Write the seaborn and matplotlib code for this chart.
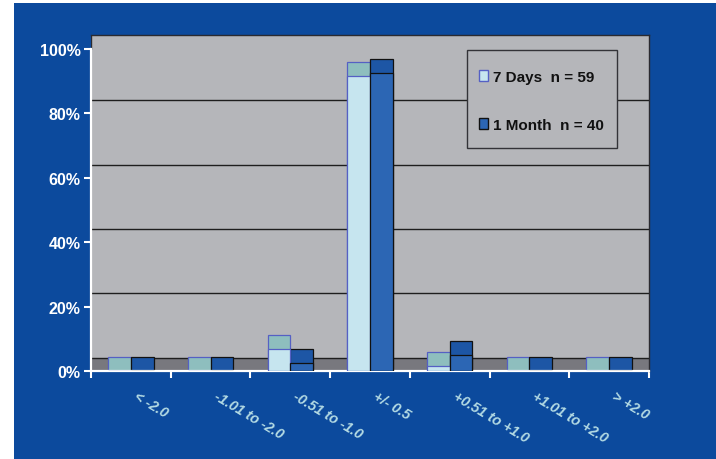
import matplotlib
matplotlib.use("Agg")
import matplotlib.pyplot as plt
import matplotlib.patches as mpatches
from matplotlib.transforms import ScaledTranslation
import numpy as np
import pandas as pd
import seaborn as sns

# Change in value, grouped into ranges
categories = ["< -2.0", "-1.01 to -2.0", "-0.51 to -1.0", "+/- 0.5",
              "+0.51 to +1.0", "+1.01 to +2.0", "> +2.0"]
series_names = ["7 Days  n = 59", "1 Month  n = 40"]
pct_7_days = [0.0, 0.0, 6.8, 91.5, 1.7, 0.0, 0.0]
pct_1_month = [0.0, 0.0, 2.5, 92.5, 5.0, 0.0, 0.0]
y_ticks = [0, 20, 40, 60, 80, 100]
y_tick_labels = ["0%", "20%", "40%", "60%", "80%", "100%"]

# 3D look: depth of the floor and of the bar tops, in percent units
DEPTH = 4.1
CAP = 4.3
Y_TOP = 104.3

front_colors = ["#c6e5ef", "#2c66b4"]
cap_colors = ["#8ebebe", "#1d56a5"]
edge_colors = ["#5560c4", "#111111"]
wall = "#b5b6ba"
floor = "#78787e"
bg_blue = "#0c4a9d"
label_cyan = "#b4dbe4"

df = pd.DataFrame({
    "category": categories * 2,
    "series": [series_names[0]] * len(categories) + [series_names[1]] * len(categories),
    "value": pct_7_days + pct_1_month,
})
df["cap_top"] = df["value"] + CAP

sns.set_theme(style="white")
plt.rcParams["font.family"] = ["Liberation Sans", "DejaVu Sans"]

fig = plt.figure(figsize=(7.16, 4.6), dpi=100, facecolor="white")
fig.add_artist(mpatches.Rectangle((14 / 716, 0), 1 - 14 / 716, 456 / 460,
                                  transform=fig.transFigure, facecolor=bg_blue,
                                  edgecolor="none", zorder=-10))
ax = fig.add_axes([91 / 716, 1 - 372 / 460, (649 - 91) / 716, (372 - 36) / 460])
ax.set_zorder(5)
ax.set_facecolor(wall)

# floor and back-wall gridlines (raised by the floor depth)
ax.axhspan(0, DEPTH, color=floor, zorder=0.5, lw=0)
ax.axhline(DEPTH, color="#1e1e1e", lw=1.0, zorder=0.6)
for t in y_ticks[1:-1]:
    ax.axhline(t + DEPTH, color="#1e1e1e", lw=1.0, zorder=0.6)

# bar tops first, then the front faces over them
sns.barplot(data=df, x="category", y="cap_top", hue="series", order=categories,
            hue_order=series_names, palette=cap_colors, width=0.57, errorbar=None,
            legend=False, saturation=1, ax=ax, zorder=2)
sns.barplot(data=df, x="category", y="value", hue="series", order=categories,
            hue_order=series_names, palette=front_colors, width=0.57, errorbar=None,
            legend=False, saturation=1, ax=ax, zorder=3)
for i, cont in enumerate(ax.containers):
    for bar in cont:
        bar.set_edgecolor(edge_colors[i % 2])
        bar.set_linewidth(0.9)

ax.set_xlim(-0.5, len(categories) - 0.5)
ax.set_ylim(0, Y_TOP)
ax.set_xlabel("")
ax.set_ylabel("")

# y axis
ax.set_yticks(y_ticks)
ax.set_yticklabels(y_tick_labels)
ax.tick_params(axis="y", which="major", direction="out", length=5, width=1.5,
               color="white", pad=2.5, labelsize=11.5, labelcolor="white", left=True)
for lab in ax.get_yticklabels():
    lab.set_fontweight("bold")

# x axis: ticks between groups, slanted labels under each group
ax.set_xticks(np.arange(len(categories) + 1) - 0.5, minor=True)
ax.tick_params(axis="x", which="minor", direction="out", length=5, width=1.5,
               color="white", bottom=True)
ax.set_xticks(range(len(categories)))
ax.set_xticklabels(categories)
ax.tick_params(axis="x", which="major", length=0, pad=12.5)
shift = ScaledTranslation(5.5 / 72, 0, fig.dpi_scale_trans)
for lab in ax.get_xticklabels():
    lab.set_rotation(-31)
    lab.set_rotation_mode("anchor")
    lab.set_ha("left")
    lab.set_va("top")
    lab.set_color(label_cyan)
    lab.set_fontsize(10.3)
    lab.set_fontweight("bold")
    lab.set_fontstyle("italic")
    lab.set_transform(lab.get_transform() + shift)

for side in ["top", "right"]:
    ax.spines[side].set_color("#2a2a30")
    ax.spines[side].set_linewidth(1.0)
for side in ["left", "bottom"]:
    ax.spines[side].set_color("white")
    ax.spines[side].set_linewidth(1.6)
ax.spines["left"].set_bounds(0, 100)
ax.axvline(-0.5, ymin=100 / Y_TOP, ymax=1, color="#2a2a30", lw=1.0)

# legend: boxed panel with the two entries spaced apart
ax.add_patch(mpatches.Rectangle((0.673, 0.663), 0.269, 0.293, transform=ax.transAxes,
                                facecolor=wall, edgecolor="#333338", lw=1.0, zorder=6))
handles = [mpatches.Patch(facecolor=front_colors[i], edgecolor=edge_colors[i], lw=1.0)
           for i in range(2)]
leg = ax.legend(handles, series_names, loc="upper left",
                bbox_to_anchor=(0.6953, 0.897), borderaxespad=0, borderpad=0,
                frameon=False,
                prop={"family": "Liberation Sans", "weight": "bold", "size": 11},
                handlelength=0.6, handleheight=0.75, handletextpad=0.35,
                labelspacing=2.25)
leg.set_zorder(7)
for t in leg.get_texts():
    t.set_color("#111111")

fig.savefig("out.png", dpi=100, facecolor=fig.get_facecolor())
